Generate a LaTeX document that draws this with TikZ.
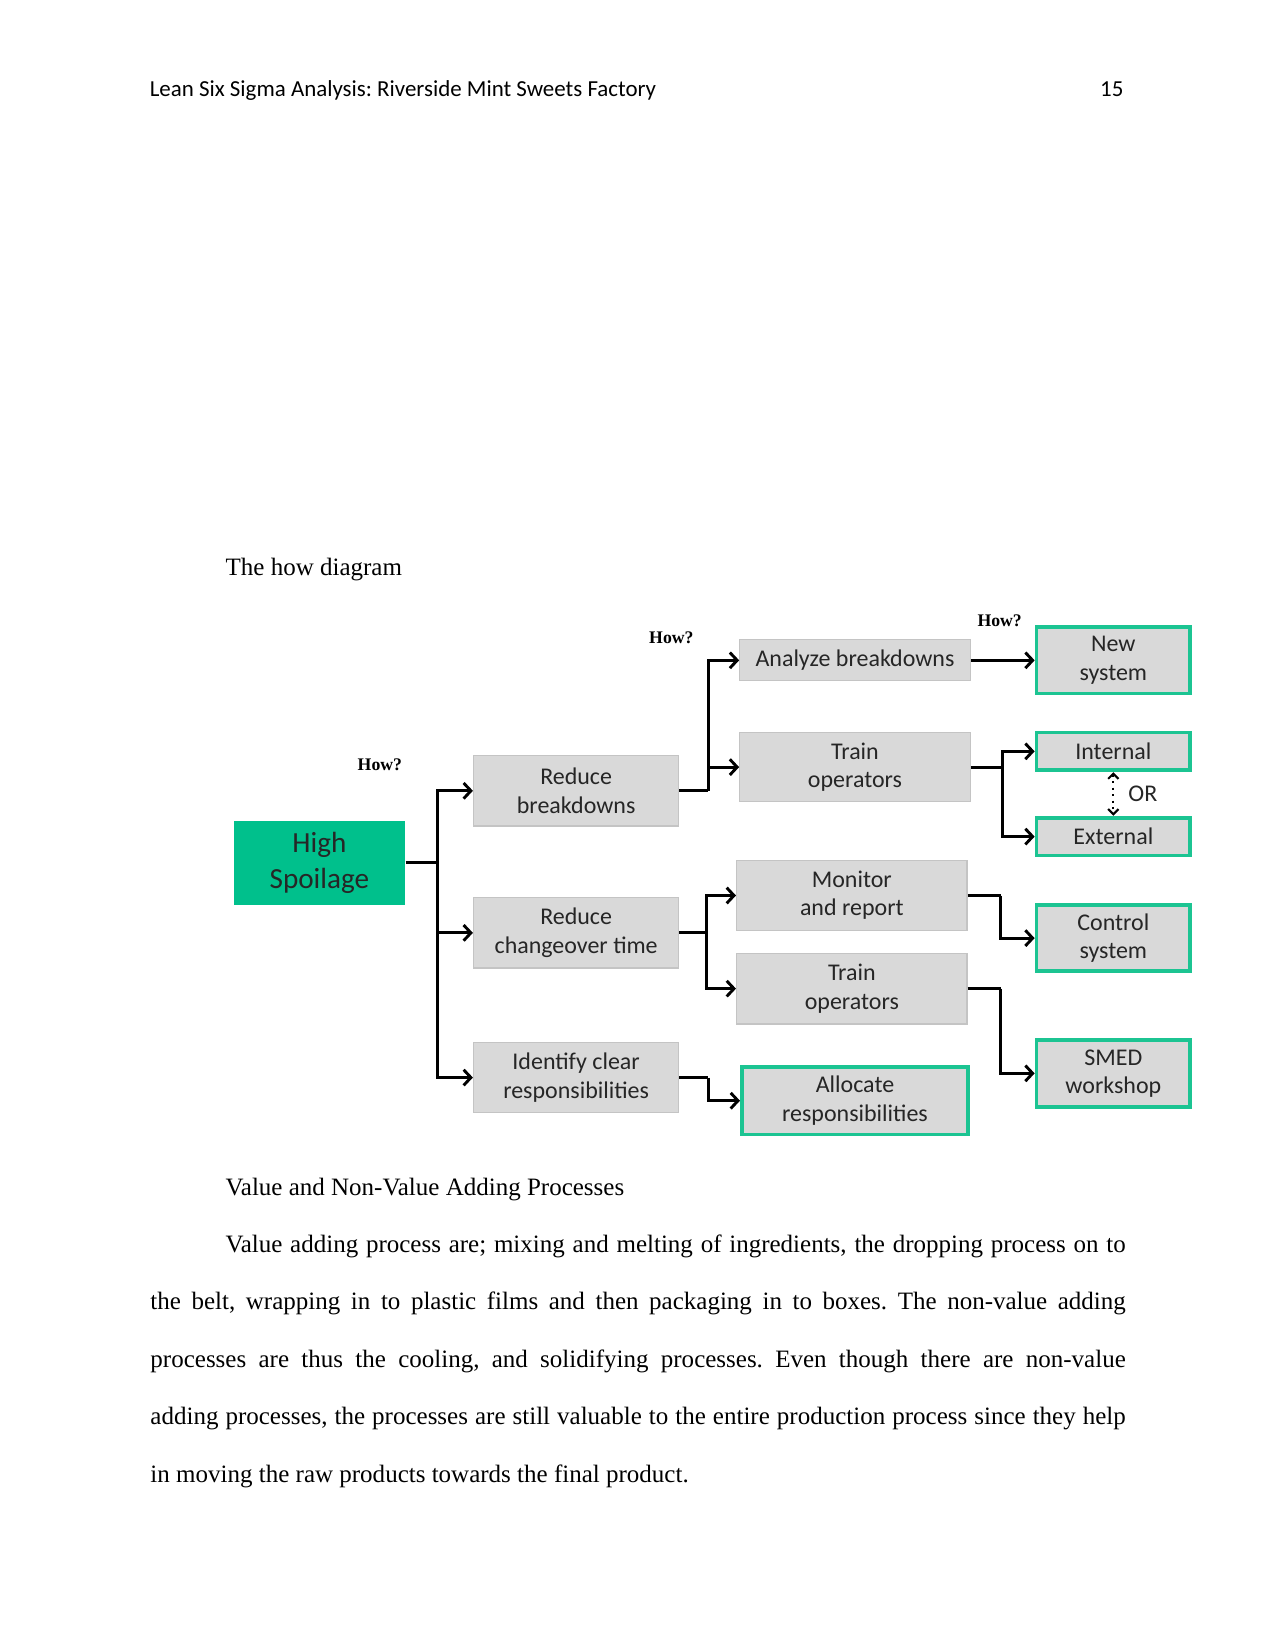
\documentclass[tikz,border=0pt]{standalone}
\usepackage{fontspec}
\setmainfont{Liberation Serif}
\newfontfamily\calib{Carlito}
\usetikzlibrary{arrows.meta,calc}
\definecolor{hsgreen}{RGB}{0,192,140}
\definecolor{bordgreen}{RGB}{28,196,146}
\definecolor{boxgray}{RGB}{217,217,217}
\definecolor{boxline}{RGB}{196,196,196}
\definecolor{txt}{RGB}{38,38,38}
\begin{document}
\frenchspacing
\begin{tikzpicture}[x=0.50495pt,y=-0.50495pt,
  sz/.style 2 args={minimum width=#1*0.50495pt, minimum height=#2*0.50495pt},
  graybox/.style={draw=boxline, line width=0.6pt, fill=boxgray, text=txt, align=center, inner sep=0pt,
    font=\calib\fontsize{11.5}{13.6}\selectfont},
  greenbox/.style={graybox, draw=bordgreen, line width=1.8pt},
  topbox/.style={fill=hsgreen, draw=none, text=txt, align=center, inner sep=0pt,
    font=\calib\fontsize{14}{17.6}\selectfont},
  link/.style={line width=1.4pt, black},
  arr/.style={link, -{Straight Barb[length=3.5pt,width=7.5pt,line width=1.4pt]}},
  dotarr/.style={line width=1.1pt, dotted, {Straight Barb[length=2.5pt,width=5pt,line width=1pt]}-{Straight Barb[length=2.5pt,width=5pt,line width=1pt]}},
  how/.style={font=\fontsize{8.5}{10}\selectfont\bfseries, text=black, inner sep=0pt},
  body/.style={font=\fontsize{12}{27.6}\selectfont, inner sep=0pt, text=black}
]
\useasboundingbox (0,0) rectangle (1212,1568);
\fill[white] (0,0) rectangle (1212,1568);

% header
\node[anchor=base west, inner sep=0pt, font=\calib\fontsize{11}{13}\selectfont] (hdr) at (142,91.5) {Lean Six Sigma Analysis: Riverside Mint Sweets Factory};
\node[anchor=base east, inner sep=0pt, font=\calib\fontsize{11}{13}\selectfont] (pg) at (1068,91.5) {15};

\node[body, anchor=base west] (cap1) at (214,547) {The how diagram};

% diagram nodes
\node[topbox, sz={163}{80}] (HS) at (303.5,820) {High\\Spoilage};
\node[graybox, sz={195}{67}] (RB) at (547.5,751.5) {Reduce\\breakdowns};
\node[graybox, sz={195}{67}] (RC) at (547.5,886.5) {Reduce\\changeover time};
\node[graybox, sz={195}{66}] (IC) at (547.5,1024) {Identify clear\\responsibilities};
\node[graybox, sz={219}{39}] (AB) at (812.5,627.5) {Analyze breakdowns};
\node[graybox, sz={219}{66}] (TO1) at (812.5,729) {Train\\operators};
\node[graybox, sz={219}{66}] (MR) at (809.5,851) {Monitor\\and report};
\node[graybox, sz={219}{67}] (TO2) at (809.5,939.5) {Train\\operators};
\node[greenbox, sz={215}{64}] (AR) at (812.5,1046) {Allocate\\responsibilities};
\node[greenbox, sz={146}{63}] (NS) at (1058,627.5) {New\\system};
\node[greenbox, sz={146}{36}] (IN) at (1058,714) {Internal};
\node[greenbox, sz={146}{36}] (EX) at (1058,795) {External};
\node[greenbox, sz={146}{63}] (CS) at (1058,891.5) {Control\\system};
\node[greenbox, sz={146}{64}] (SM) at (1058,1020) {SMED\\workshop};

% labels
\node[how] (h1) at (361,727) {How?};
\node[how] (h2) at (638,606) {How?};
\node[how] (h3) at (950,590) {How?};
\node[anchor=west, inner sep=0pt, text=txt, font=\calib\fontsize{11.5}{13.6}\selectfont] (or) at (1072,754) {OR};

% junctions
\coordinate (j1) at (416,820);
\coordinate (j2) at (673,751.5);
\coordinate (j3) at (953,729);
\coordinate (j4) at (671,886.5);
\coordinate (j5) at (951,851);
\coordinate (j6) at (951,939.5);
\coordinate (j7) at (673,1024);

% connectors
\draw[link] (HS.east) -- (j1);
\draw[arr] (j1) |- (RB.west);
\draw[arr] (j1) |- (RC.west);
\draw[arr] (j1) |- (IC.west);

\draw[link] (RB.east) -- (j2);
\draw[arr] (j2) |- (AB.west);
\draw[arr] (j2) |- (TO1.west);

\draw[arr] (AB.east) -- (NS.west);

\draw[link] (TO1.east) -- (j3);
\draw[arr] (j3) |- (IN.west);
\draw[arr] (j3) |- (EX.west);
\draw[dotarr] (IN.south) -- (EX.north);

\draw[link] (RC.east) -- (j4);
\draw[arr] (j4) |- (MR.west);
\draw[arr] (j4) |- (TO2.west);

\draw[link] (MR.east) -- (j5);
\draw[arr] (j5) |- (CS.west);
\draw[link] (TO2.east) -- (j6);
\draw[arr] (j6) |- (SM.west);

\draw[link] (IC.east) -- (j7);
\draw[arr] (j7) |- (AR.west);

% text below
\node[body, anchor=base west] (cap2) at (214,1136) {Value and Non-Value Adding Processes};
\node[body, anchor=base west, text width=468pt, align=justify] (para) at (142.6,1190) {\frenchspacing\hspace*{36pt}Value adding process are; mixing and melting of ingredients, the dropping process on to\linebreak the belt, wrapping in to plastic films and then packaging in to boxes. The non-value adding\linebreak processes are thus the cooling, and solidifying processes. Even though there are non-value\linebreak adding processes, the processes are still valuable to the entire production process since they help\linebreak in moving the raw products towards the final product.};
\end{tikzpicture}
\end{document}
